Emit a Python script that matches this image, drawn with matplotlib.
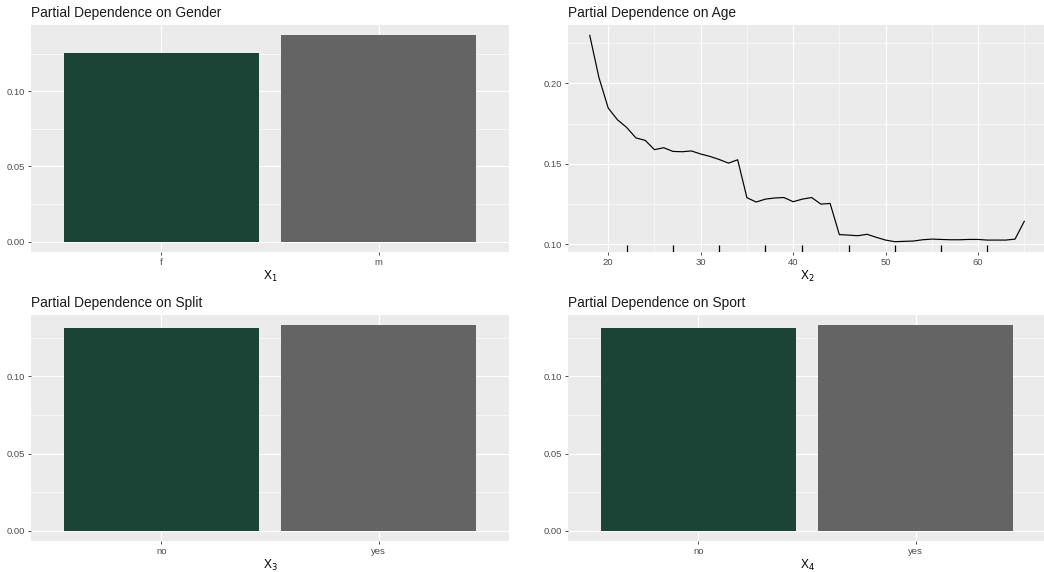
import numpy as np
import matplotlib
matplotlib.use('Agg')
import matplotlib.pyplot as plt
from matplotlib.ticker import MultipleLocator

plt.rcParams['font.family'] = ['Liberation Sans', 'DejaVu Sans']

# partial dependence values
gender_levels = ['f', 'm']
gender_pd = [0.1252, 0.1372]

split_levels = ['no', 'yes']
split_pd = [0.1317, 0.1332]

sport_levels = ['no', 'yes']
sport_pd = [0.1317, 0.1332]

age = list(range(18, 66))
age_pd = [0.2300, 0.2036, 0.1847, 0.1774, 0.1726, 0.1661, 0.1646, 0.1588,
          0.1600, 0.1577, 0.1575, 0.1580, 0.1561, 0.1546, 0.1527, 0.1504,
          0.1525, 0.1289, 0.1262, 0.1280, 0.1287, 0.1290, 0.1264, 0.1280,
          0.1290, 0.1249, 0.1253, 0.1059, 0.1056, 0.1052, 0.1061, 0.1042,
          0.1025, 0.1015, 0.1017, 0.1019, 0.1027, 0.1031, 0.1029, 0.1027,
          0.1027, 0.1029, 0.1029, 0.1025, 0.1025, 0.1025, 0.1031, 0.1142]
age_deciles = [22, 27, 32, 37, 41, 46, 51, 56, 61]

bar_colors = ['#1c4436', '#646464']
BG = '#ebebeb'

fig = plt.figure(figsize=(10.44, 5.72), dpi=100)
W, H = 1044, 572
def box(x0, top, x1, bottom):
    return [x0 / W, 1 - bottom / H, (x1 - x0) / W, (bottom - top) / H]

axes = [fig.add_axes(box(31, 25, 509, 252)),
        fig.add_axes(box(568, 25, 1046, 252)),
        fig.add_axes(box(31, 315, 509, 541)),
        fig.add_axes(box(568, 315, 1046, 541))]


def style(ax, title, xlabel):
    ax.set_facecolor(BG)
    for s in ax.spines.values():
        s.set_visible(False)
    ax.grid(which='major', color='white', lw=0.8)
    ax.grid(which='minor', color='white', lw=0.4)
    ax.set_axisbelow(True)
    ax.tick_params(which='major', length=2.5, width=0.6, color='#333333',
                   labelsize=6.8, labelcolor='#4d4d4d', pad=1.8)
    ax.tick_params(which='minor', length=0)
    ax.set_title(title, loc='left', fontsize=9.9, pad=5.8, color='#1a1a1a')
    ax.set_xlabel(xlabel, fontsize=8.6, labelpad=1.5)


def bar_panel(ax, levels, vals, title, xlabel):
    pos = np.arange(1, len(levels) + 1)
    ax.bar(pos, vals, width=0.9, color=bar_colors)
    ax.set_xlim(0.4, len(levels) + 0.6)
    top = max(vals)
    ax.set_ylim(-0.05 * top, top * 1.05)
    ax.set_xticks(pos)
    ax.set_xticklabels(levels)
    ax.yaxis.set_major_locator(MultipleLocator(0.05))
    ax.yaxis.set_minor_locator(MultipleLocator(0.025))
    ax.yaxis.set_major_formatter(matplotlib.ticker.FormatStrFormatter('%.2f'))
    style(ax, title, xlabel)
    ax.grid(which='minor', axis='x', visible=False)


bar_panel(axes[0], gender_levels, gender_pd, 'Partial Dependence on Gender', 'X$_1$')
bar_panel(axes[2], split_levels, split_pd, 'Partial Dependence on Split', 'X$_3$')
bar_panel(axes[3], sport_levels, sport_pd, 'Partial Dependence on Sport', 'X$_4$')

ax = axes[1]
ax.plot(age, age_pd, color='black', lw=0.85)
ax.vlines(age_deciles, 0, 0.03, transform=ax.get_xaxis_transform(),
          color='black', lw=0.9)
xr = max(age) - min(age)
ax.set_xlim(min(age) - 0.05 * xr, max(age) + 0.05 * xr)
yr = max(age_pd) - min(age_pd)
ax.set_ylim(min(age_pd) - 0.05 * yr, max(age_pd) + 0.05 * yr)
ax.xaxis.set_major_locator(MultipleLocator(10))
ax.xaxis.set_minor_locator(MultipleLocator(5))
ax.yaxis.set_major_locator(MultipleLocator(0.05))
ax.yaxis.set_minor_locator(MultipleLocator(0.025))
ax.yaxis.set_major_formatter(matplotlib.ticker.FormatStrFormatter('%.2f'))
style(ax, 'Partial Dependence on Age', 'X$_2$')

fig.savefig('out.png', dpi=100, facecolor='white')
